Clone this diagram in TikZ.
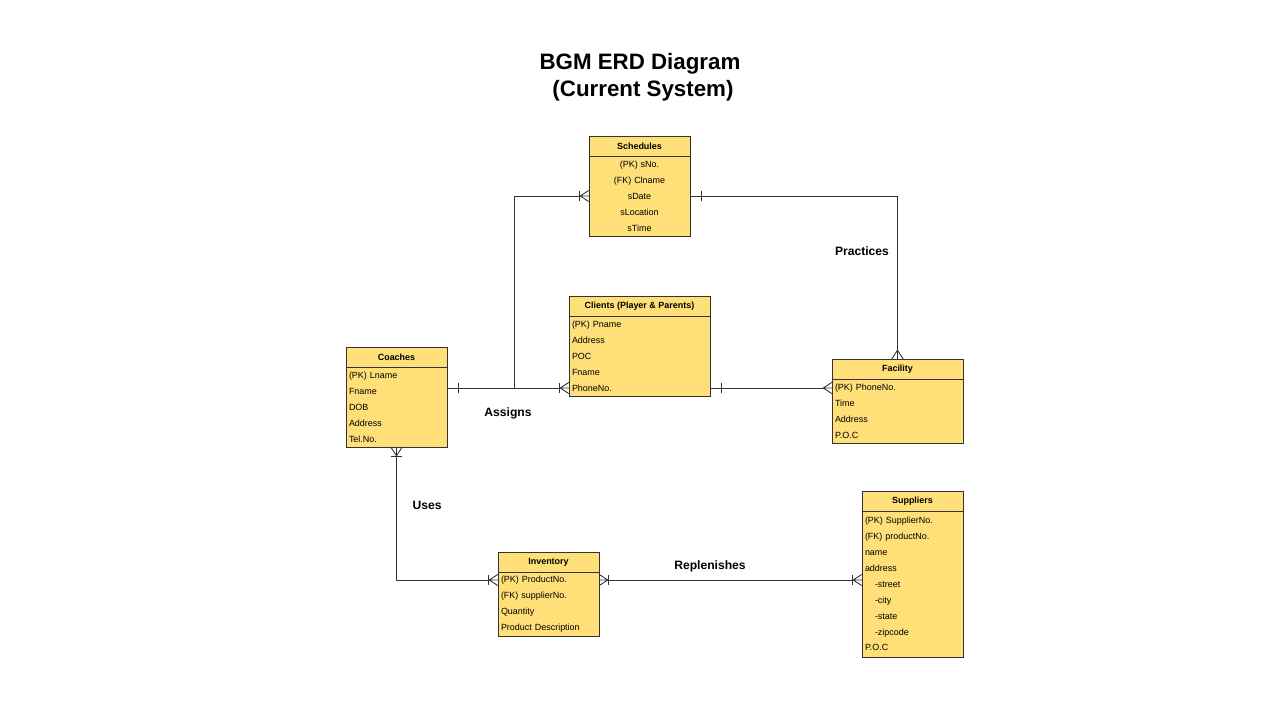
\documentclass[tikz,border=0pt]{standalone}
\usepackage{fontspec}
\setmainfont{Liberation Sans}
\usepackage{tikz}
\usetikzlibrary{arrows.meta, positioning}
\definecolor{erdyellow}{HTML}{FFDF78}
\definecolor{erdline}{HTML}{333333}
\newcommand{\entfont}{\fontsize{5.1pt}{9.07pt}\selectfont}

\pgfdeclarearrow{
  name = Crow,
  parameters = {\the\pgfarrowlength,\the\pgfarrowwidth},
  setup code = {
    \pgfarrowssettipend{0pt}
    \pgfarrowssetlineend{-\pgfarrowlength}
    \pgfarrowssetbackend{-\pgfarrowlength}
    \pgfarrowshullpoint{0pt}{.5\pgfarrowwidth}
    \pgfarrowshullpoint{0pt}{-.5\pgfarrowwidth}
    \pgfarrowshullpoint{-\pgfarrowlength}{0pt}
    \pgfarrowssavethe\pgfarrowlength
    \pgfarrowssavethe\pgfarrowwidth
  },
  drawing code = {
    \pgfpathmoveto{\pgfqpoint{0pt}{.5\pgfarrowwidth}}
    \pgfpathlineto{\pgfqpoint{-\pgfarrowlength}{0pt}}
    \pgfpathlineto{\pgfqpoint{0pt}{-.5\pgfarrowwidth}}
    \pgfpathmoveto{\pgfqpoint{-\pgfarrowlength}{0pt}}
    \pgfpathlineto{\pgfqpoint{0pt}{0pt}}
    \pgfusepathqstroke
  },
  defaults = {length=5pt, width=6.5pt}
}

\tikzset{
  erdmany/.tip={Crow},
  erdone/.tip={Bar[width=6pt,sep=0pt]Crow[width=0pt,length=6pt]},
  erdonemany/.tip={Bar[width=6pt,sep=0pt]Crow},
}
\tikzstyle{entity}=[draw=erdline,fill=erdyellow,rectangle,inner sep=0pt,outer sep=0pt,minimum height=0.4cm,font=\entfont\bfseries,anchor=north west]
\tikzstyle{attrs}=[draw=erdline,fill=erdyellow,rectangle,inner ysep=0pt,inner xsep=0.06cm,outer sep=0pt,font=\entfont,align=left]
\tikzstyle{rel}=[font=\fontsize{6.9pt}{8pt}\selectfont\bfseries]

\begin{document}
\begin{tikzpicture}[x=0.02cm,y=-0.02cm,line width=0.5pt,draw=erdline]
  \useasboundingbox (0,0) rectangle (1280,720);
  \node[font=\fontsize{12.7pt}{15.3pt}\selectfont\bfseries,align=center] (title) at (640,77) {BGM ERD Diagram\\\hspace*{0.12cm}(Current System)};

  \node[entity,minimum width=2.02cm] (sched) at (589,136) {Schedules};
  \node[attrs,align=center,text width=1.9cm,minimum height=1.6cm,below=0pt of sched] (schedbody)
    {(PK) sNo.\\(FK) Clname\\sDate\\sLocation\\sTime};

  \node[entity,minimum width=2.82cm] (clients) at (569,296) {Clients (Player \& Parents)};
  \node[attrs,text width=2.7cm,minimum height=1.6cm,below=0pt of clients] (clientsbody)
    {(PK) Pname\\Address\\POC\\Fname\\PhoneNo.};

  \node[entity,minimum width=2.02cm] (coach) at (346,347) {Coaches};
  \node[attrs,text width=1.9cm,minimum height=1.6cm,below=0pt of coach] (coachbody)
    {(PK) Lname\\Fname\\DOB\\Address\\Tel.No.};

  \node[entity,minimum width=2.62cm] (facility) at (832,359) {Facility};
  \node[attrs,text width=2.5cm,minimum height=1.28cm,below=0pt of facility] (facilitybody)
    {(PK) PhoneNo.\\Time\\Address\\P.O.C};

  \node[entity,minimum width=2.02cm] (inv) at (498,552) {Inventory};
  \node[attrs,text width=1.9cm,minimum height=1.28cm,below=0pt of inv] (invbody)
    {(PK) ProductNo.\\(FK) supplierNo.\\Quantity\\Product Description};

  \node[entity,minimum width=2.02cm] (supp) at (862,491) {Suppliers};
  \node[attrs,text width=1.9cm,minimum height=2.92cm,below=0pt of supp] (suppbody)
    {(PK) SupplierNo.\\(FK) productNo.\\name\\address\\\hspace*{0.2cm}-street\\\hspace*{0.2cm}-city\\\hspace*{0.2cm}-state\\\hspace*{0.2cm}-zipcode\\P.O.C};

  \coordinate (cl) at ([yshift=-0.64cm]clientsbody.west);
  \coordinate (join) at (514,389);
  \coordinate (inv1) at ([yshift=0.48cm]invbody.west);

  \draw[-erdonemany] (join) |- (schedbody.west);
  \draw[erdone-erdonemany] (cl -| coachbody.east) -- (cl);
  \draw[erdone-erdmany] (schedbody.east) -| (facility.north);
  \draw[erdone-erdmany] (cl -| clientsbody.east) -- (cl -| facilitybody.west);
  \draw[erdonemany-erdonemany] (coachbody.south) |- (inv1);
  \draw[erdonemany-erdonemany] (inv1 -| invbody.east) -- (inv1 -| suppbody.west);

  \node[rel] (assigns) at (508,413) {Assigns};
  \node[rel] (practices) at (862,251) {Practices};
  \node[rel] (uses) at (427,505) {Uses};
  \node[rel] (replenishes) at (710,566) {Replenishes};
\end{tikzpicture}
\end{document}
